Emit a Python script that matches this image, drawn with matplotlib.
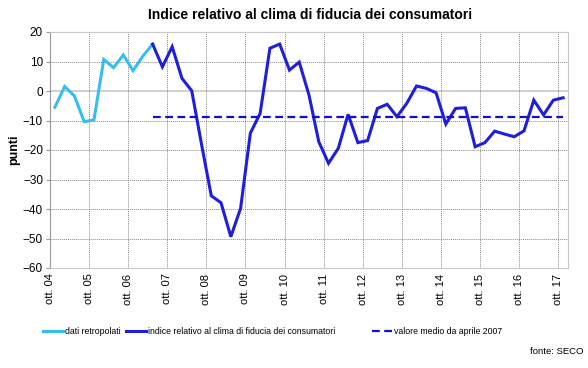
import numpy as np
import matplotlib
matplotlib.use("Agg")
import matplotlib.pyplot as plt
from matplotlib.lines import Line2D

plt.rcParams['font.family'] = ['Liberation Sans', 'DejaVu Sans']

# quarterly values, ott. 2004 .. ott. 2017
retro = [-5.5, 1.5, -1.7, -10.4, -9.8, 10.7, 7.9, 12.2, 6.9, 11.8, 15.9]
indice = [15.9, 8.2, 15.0, 4.3, 0.1, -18.0, -35.5, -37.9, -49.4, -39.8,
          -14.3, -7.6, 14.5, 15.9, 7.1, 9.8, -1.4, -17.2, -24.5, -19.4,
          -7.9, -17.5, -16.8, -5.9, -4.5, -8.7, -4.2, 1.7, 0.9, -0.6,
          -11.2, -5.9, -5.7, -18.9, -17.5, -13.6, -14.6, -15.5, -13.5, -3.1,
          -8.1, -3.1, -2.3]
media = -8.7
anni = ['04', '05', '06', '07', '08', '09', '10', '11', '12', '13', '14', '15', '16', '17']

n = len(retro) + len(indice) - 1
x_retro = np.arange(len(retro)) + 0.5
x_ind = np.arange(len(retro) - 1, n) + 0.5

c_retro = '#38BDEE'
c_ind = '#1E1EDC'
c_media = '#1010C8'
dash = (0, (3.5, 2))

fig = plt.figure(figsize=(5.88, 3.68), dpi=100)
ax = fig.add_axes([50/588, 1-268/368, 518/588, 236/368])

ax.plot(x_retro, retro, color=c_retro, lw=2.2, solid_joinstyle='miter')
ax.plot(x_ind, indice, color=c_ind, lw=2.2, solid_joinstyle='miter')
ax.plot([x_ind[0], x_ind[-1]], [media, media], color=c_media, lw=1.6, ls=dash)

ax.set_xlim(0, n)
ax.set_ylim(-60, 20)
ax.set_yticks(range(-60, 21, 10))
xt = np.arange(0, n, 4)
ax.set_xticks(xt)
ax.set_xticklabels(['ott. ' + a for a in anni], rotation=90, fontsize=8)
ax.tick_params(axis='y', labelsize=8.5, length=3, color='#999999', pad=2)
ax.tick_params(axis='x', length=0, pad=4)

for v in range(-60, 21, 10):
    if v == 0:
        ax.axhline(v, color='#c8c8c8', lw=1.2, zorder=0)
    elif v not in (-60, 20):
        ax.axhline(v, color='#8a8a8a', lw=0.7, ls=(0, (1, 1)), zorder=0)
for xv in xt[1:]:
    ax.axvline(xv, color='#8a8a8a', lw=0.7, ls=(0, (1, 1)), zorder=0)

for s in ax.spines.values():
    s.set_color('#c8c8c8')
ax.spines['left'].set_color('#999999')

ax.set_ylabel('punti', fontsize=9, fontweight='bold', labelpad=2)
fig.text(310/588, 1-15/368, 'Indice relativo al clima di fiducia dei consumatori',
         ha='center', va='center', fontsize=10, fontweight='bold')

legend_items = [
    (Line2D([], [], color=c_retro, lw=2.2), 'dati retropolati', 43),
    (Line2D([], [], color=c_ind, lw=2.2), 'indice relativo al clima di fiducia dei consumatori', 126),
    (Line2D([], [], color=c_media, lw=1.6, ls=dash), 'valore medio da aprile 2007', 372),
]
for h, lab, xpos in legend_items:
    fig.legend([h], [lab], loc='center left', bbox_to_anchor=(xpos/588, 1-332/368),
               frameon=False, fontsize=6.3, handlelength=2.3, handletextpad=0.25,
               borderpad=0, borderaxespad=0)
fig.text(583/588, 1-352/368, 'fonte: SECO', ha='right', va='center', fontsize=6.8)

fig.savefig('out.png', dpi=100)
